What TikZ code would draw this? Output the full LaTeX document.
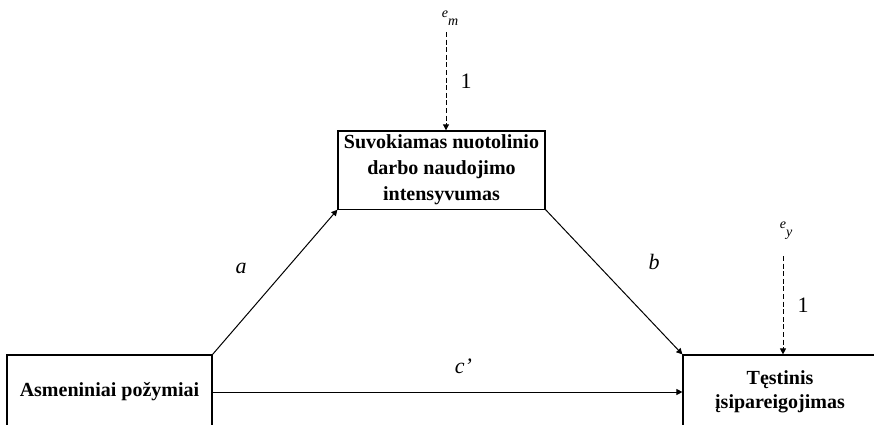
\documentclass[tikz,border=0pt]{standalone}
\usepackage{fontspec}
\setmainfont{Liberation Serif}
\usetikzlibrary{positioning,arrows.meta}
\tikzset{
  var/.style={draw, line width=0.6pt, fill=white, align=center, font=\fontsize{10}{13}\selectfont\bfseries, inner sep=2pt},
  path/.style={-{Triangle[length=3pt, width=3pt]}, line width=0.5pt},
  err/.style={-{Triangle[length=3pt, width=3pt]}, line width=0.5pt, dash pattern=on 2.5pt off 1.3pt},
  coef/.style={font=\fontsize{11}{13}\selectfont\itshape, inner sep=1pt},
  one/.style={font=\fontsize{11}{13}\selectfont, inner sep=1pt},
  elbl/.style={font=\scriptsize\itshape, inner sep=0pt},
}
\begin{document}
\begin{tikzpicture}[x=0.5pt, y=-0.5pt]
\useasboundingbox (0,0) rectangle (874,424);
\clip (0,0) rectangle (874,424);
\node[var, minimum width=103.5pt, minimum height=37pt] (mb) at (441.5,170) {Suvokiamas nuotolinio\\darbo naudojimo\\intensyvumas};
\node[var, minimum width=102.5pt, minimum height=37pt] (lb) at (109.5,392) {Asmeniniai požymiai};
\node[var, minimum width=97pt, minimum height=37pt] (rb) at (780,392) {Tęstinis\\[-1pt]įsipareigojimas};
% error terms
\coordinate (em) at (446,32);
\coordinate (ey) at (783,256);
\node[elbl] (emlbl) at (450,18) {e\raisebox{-1.3ex}{m}};
\node[elbl] (eylbl) at (786,231) {e\raisebox{-1.3ex}{y}};
\draw[err] (em) -- (em |- mb.north) node[one, midway, right=6pt] {1};
\draw[err] (ey) -- (ey |- rb.north) node[one, midway, right=6pt] {1};
% paths
\draw[path] (lb.north east) -- (mb.south west) node[coef, midway, xshift=-17pt, yshift=7pt] {a};
\draw[path] (mb.south east) -- (rb.north west) node[coef, midway, xshift=20pt, yshift=10pt] {b};
\draw[path] (lb) -- (lb -| rb.west) node[coef, midway, xshift=8pt, yshift=13pt] {c’};
\end{tikzpicture}
\end{document}
